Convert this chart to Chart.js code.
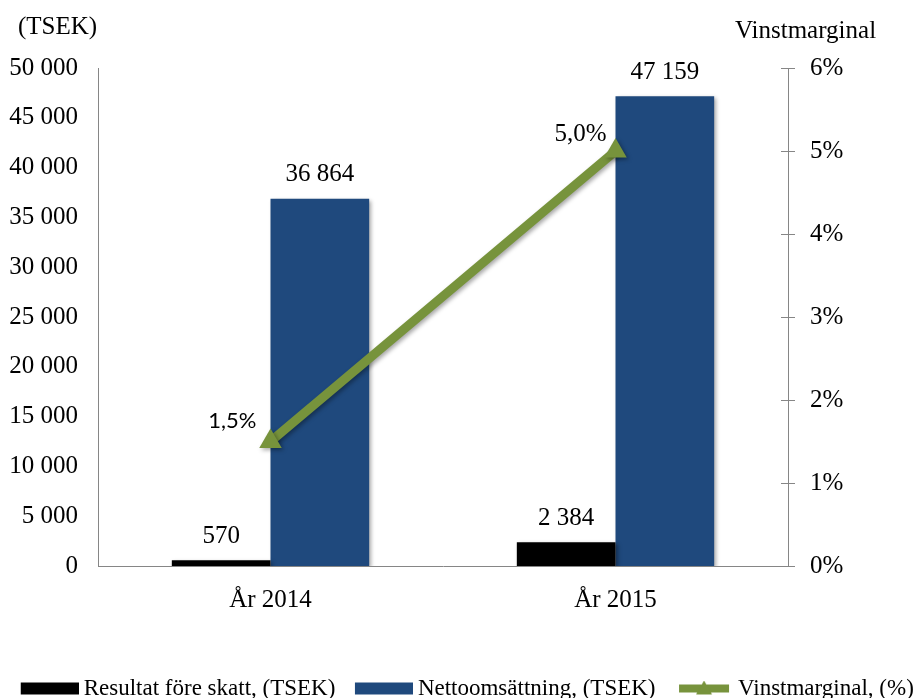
<!DOCTYPE html>
<html>
<head>
<meta charset="utf-8">
<script src="https://cdn.jsdelivr.net/npm/chart.js@4.4.0/dist/chart.umd.min.js"></script>
<style>
  html, body { margin: 0; padding: 0; background: #fff; }
</style>
</head>
<body>
<canvas id="chart" width="915" height="698"></canvas>
<script>
// data
const categories = ['År 2014', 'År 2015'];
const resultatForeSkatt = [570, 2384];
const nettoomsattning = [36864, 47159];
const vinstmarginal = [1.5, 5.0];
const leftTicks = [0, 5000, 10000, 15000, 20000, 25000, 30000, 35000, 40000, 45000, 50000];
const rightTicks = [0, 1, 2, 3, 4, 5, 6];

const SERIF = '"Liberation Serif", "Times New Roman", serif';
const GREEN = '#77933C';
const BLUE = '#1F497D';
const AXIS = '#868686';

function fmtThousands(v) {
  return String(v).replace(/\B(?=(\d{3})+(?!\d))/g, ' ');
}

// bild för legend-symbol (tom marginal till vänster = avstånd mellan poster)
const LEG_L = 26;
function legendImage(kind, color) {
  const c = document.createElement('canvas');
  c.width = LEG_L + 58; c.height = 16;
  const g = c.getContext('2d');
  g.fillStyle = color;
  if (kind === 'line') {
    g.fillRect(LEG_L + 4, 4, 50, 8);
    g.beginPath();
    g.moveTo(LEG_L + 29, 0); g.lineTo(LEG_L + 37, 14); g.lineTo(LEG_L + 21, 14);
    g.closePath(); g.fill();
  } else {
    g.fillRect(LEG_L, 2, 58, 12);
  }
  return c;
}

// texter ovanför axlarna
const axisTitles = {
  id: 'axisTitles',
  afterDraw(chart) {
    const ctx = chart.ctx;
    ctx.save();
    ctx.fillStyle = '#000';
    ctx.font = '25px ' + SERIF;
    ctx.textBaseline = 'middle';
    ctx.textAlign = 'left';
    ctx.fillText('(TSEK)', 18, 27);
    ctx.fillText('Vinstmarginal', 735, 31);
    ctx.restore();
  }
};

// inre del av tickmarkeringar på högeraxeln
const innerTicks = {
  id: 'innerTicks',
  afterDraw(chart) {
    const s = chart.scales.y1;
    const ctx = chart.ctx;
    ctx.save();
    ctx.strokeStyle = AXIS;
    ctx.lineWidth = 1;
    s.ticks.forEach(t => {
      const y = Math.round(s.getPixelForValue(t.value)) + 0.5;
      ctx.beginPath();
      ctx.moveTo(s.left - 7, y);
      ctx.lineTo(s.left, y);
      ctx.stroke();
    });
    ctx.restore();
  }
};

// skugga bakom staplar och linje
const shadows = {
  id: 'shadows',
  beforeDatasetDraw(chart) {
    const ctx = chart.ctx;
    ctx.save();
    ctx.shadowColor = 'rgba(0,0,0,0.35)';
    ctx.shadowBlur = 4;
    ctx.shadowOffsetX = 2;
    ctx.shadowOffsetY = 2;
  },
  afterDatasetDraw(chart) {
    chart.ctx.restore();
  }
};

// dataetiketter
const valueLabels = {
  id: 'valueLabels',
  afterDatasetsDraw(chart) {
    const ctx = chart.ctx;
    ctx.save();
    ctx.fillStyle = '#000';
    chart.data.datasets.forEach((ds, di) => {
      const meta = chart.getDatasetMeta(di);
      meta.data.forEach((el, i) => {
        const v = ds.data[i];
        if (ds.type === 'line') {
          const txt = v.toFixed(1).replace('.', ',') + '%';
          ctx.textAlign = 'right';
          ctx.textBaseline = 'middle';
          if (i === 0) {
            ctx.font = '22px Lato, "Open Sans", sans-serif';
            ctx.fillText(txt, el.x - 14, el.y - 21);
          } else {
            ctx.font = '25px ' + SERIF;
            ctx.fillText(txt, el.x - 9, el.y - 17);
          }
        } else {
          ctx.font = '25px ' + SERIF;
          ctx.textAlign = 'center';
          ctx.textBaseline = 'middle';
          ctx.fillText(fmtThousands(v), el.x, el.y - 24);
        }
      });
    });
    ctx.restore();
  }
};

const legendImgs = [legendImage('bar', '#000'), legendImage('bar', BLUE), legendImage('line', GREEN)];

new Chart(document.getElementById('chart'), {
  data: {
    labels: categories,
    datasets: [
      {
        type: 'bar',
        label: 'Resultat före skatt, (TSEK)',
        data: resultatForeSkatt,
        backgroundColor: '#000',
        yAxisID: 'y',
        categoryPercentage: 0.572,
        barPercentage: 1,
        order: 2
      },
      {
        type: 'bar',
        label: 'Nettoomsättning, (TSEK)',
        data: nettoomsattning,
        backgroundColor: BLUE,
        yAxisID: 'y',
        categoryPercentage: 0.572,
        barPercentage: 1,
        order: 2
      },
      {
        type: 'line',
        label: 'Vinstmarginal, (%)',
        data: vinstmarginal,
        borderColor: GREEN,
        backgroundColor: GREEN,
        borderWidth: 9,
        pointStyle: 'triangle',
        pointRadius: 13,
        pointBorderWidth: 0,
        pointBackgroundColor: GREEN,
        yAxisID: 'y1',
        order: 0
      }
    ]
  },
  options: {
    responsive: false,
    animation: false,
    layout: { padding: { top: 68, left: 0, right: 0, bottom: -12 } },
    plugins: {
      tooltip: { enabled: false },
      legend: {
        position: 'bottom',
        labels: {
          usePointStyle: true,
          pointStyleWidth: LEG_L + 58 - 13,
          padding: 0,
          color: '#000',
          font: { family: SERIF, size: 23 },
          generateLabels(chart) {
            return chart.data.datasets.map((ds, i) => ({
              text: ds.label,
              pointStyle: legendImgs[i],
              fillStyle: 'transparent',
              strokeStyle: 'transparent',
              lineWidth: 0,
              hidden: false,
              datasetIndex: i
            }));
          }
        }
      }
    },
    scales: {
      x: {
        grid: { display: false, drawTicks: false },
        border: { color: AXIS },
        ticks: { color: '#000', padding: 19, font: { family: SERIF, size: 25 } },
        afterFit(s) { s.height = 111; }
      },
      y: {
        position: 'left',
        min: 0,
        max: 50000,
        afterBuildTicks(s) { s.ticks = leftTicks.map(v => ({ value: v })); },
        grid: { display: false, drawTicks: false },
        border: { color: AXIS },
        ticks: {
          color: '#000',
          padding: 20,
          font: { family: SERIF, size: 25 },
          callback: v => fmtThousands(v)
        },
        afterFit(s) { s.width = 98; }
      },
      y1: {
        position: 'right',
        min: 0,
        max: 6,
        afterBuildTicks(s) { s.ticks = rightTicks.map(v => ({ value: v })); },
        grid: { drawOnChartArea: false, tickLength: 7, color: AXIS },
        border: { color: AXIS },
        ticks: {
          color: '#000',
          padding: 15,
          font: { family: SERIF, size: 25 },
          callback: v => v + '%'
        },
        afterFit(s) { s.width = 127; }
      }
    }
  },
  plugins: [axisTitles, innerTicks, shadows, valueLabels]
});
</script>
</body>
</html>
